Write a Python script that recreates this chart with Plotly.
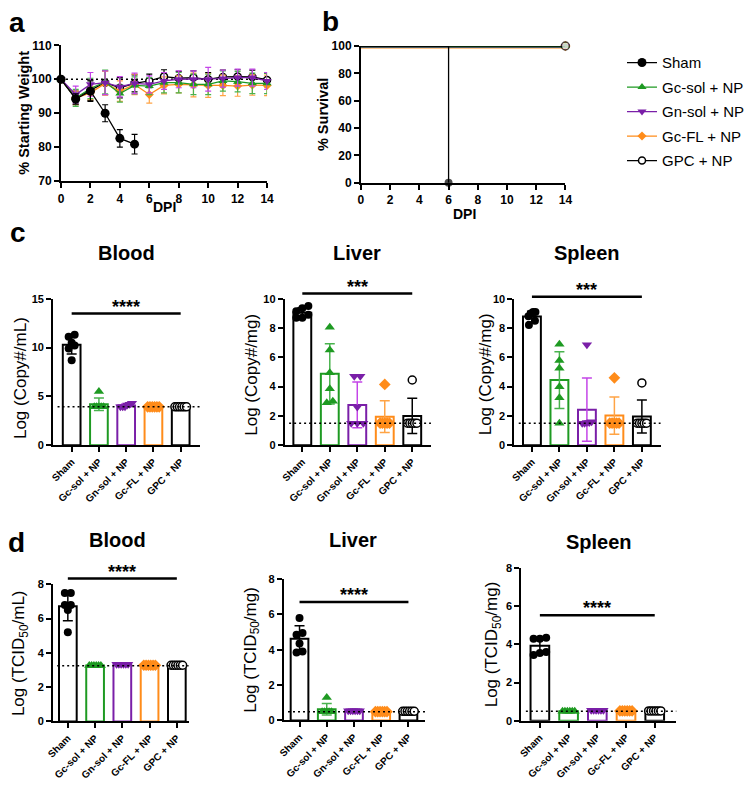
import numpy as np
import plotly.graph_objects as go

W, H = 750, 793
FONT = "Liberation Sans, Arial, Helvetica, sans-serif"

# ---------------- data ----------------
groups = ["Sham", "Gc-sol + NP", "Gn-sol + NP", "Gc-FL + NP", "GPC + NP"]
group_colors = ["#000000", "#1e9a22", "#7a1fa8", "#ff8c1a", "#000000"]
err_colors = ["#000000", "#49b34e", "#c445e8", "#ffa445", "#000000"]
symbols = ["circle", "triangle-up", "triangle-down", "diamond", "circle"]
hollow = [False, False, False, False, True]

# panel a: % starting weight
dpi = [0, 1, 2, 3, 4, 5, 6, 7, 8, 9, 10, 11, 12, 13, 14]
dpi_sham = [0, 1, 2, 3, 4, 5]
w_sham = [100, 94.2, 96.5, 90.0, 82.6, 80.9]
w_sham_sd = [0, 1.5, 3.0, 2.5, 2.6, 2.9]
w_gcsol = [100, 94.5, 97.3, 99.2, 95.8, 98.2, 98.0, 99.0, 99.0, 98.5, 98.5, 99.5, 99.3, 98.8, 98.8]
w_gcsol_sd = [0, 2.5, 3.0, 3.5, 2.5, 2.5, 2.5, 3.0, 3.0, 3.0, 3.0, 3.0, 3.0, 3.0, 3.0]
w_gnsol = [100, 95.5, 98.5, 99.0, 97.8, 98.8, 98.5, 99.5, 100.0, 100.0, 100.0, 100.2, 100.5, 100.5, 99.5]
w_gnsol_sd = [0, 2.5, 3.5, 3.5, 3.0, 3.0, 2.5, 2.5, 2.5, 2.5, 3.5, 2.5, 2.5, 2.5, 2.5]
w_gcfl = [100, 94.5, 96.0, 98.8, 96.5, 98.5, 95.5, 98.2, 98.5, 98.3, 98.2, 98.2, 98.0, 98.3, 98.2]
w_gcfl_sd = [0, 2.0, 2.0, 3.5, 3.0, 3.0, 2.5, 2.5, 2.5, 3.5, 3.5, 3.0, 3.0, 3.0, 3.0]
w_gpc = [100, 94.5, 96.8, 99.0, 97.5, 98.8, 99.5, 100.8, 100.3, 100.5, 100.0, 100.7, 100.8, 100.7, 99.8]
w_gpc_sd = [0, 2.0, 3.0, 3.5, 3.0, 2.5, 2.0, 2.0, 2.0, 2.0, 2.0, 2.0, 2.0, 2.0, 2.0]

# panel b: survival
surv_days_sham = [0, 6, 6]
surv_sham = [100, 100, 0]
surv_days_other = [0, 14]
surv_other = [100, 100]

# panel c: viral RNA (log copies)
c_blood = [
    [11.3, 11.1, 10.5, 10.2, 9.9, 8.7],
    [5.5, 3.93, 3.93, 3.93, 3.93, 3.93],
    [4.3, 4.2, 4.1, 3.93, 3.93, 3.93],
    [3.93, 3.93, 3.93, 3.93, 3.93, 3.93],
    [3.93, 3.93, 3.93, 3.93, 3.93, 3.93],
]
c_liver = [
    [9.5, 9.35, 9.15, 8.9, 8.7, 8.7],
    [8.05, 6.5, 4.95, 3.85, 3.0, 2.9],
    [4.7, 4.7, 2.6, 1.5, 1.5, 1.5],
    [4.15, 1.5, 1.5, 1.5, 1.5, 1.5],
    [4.45, 1.5, 1.5, 1.5, 1.5, 1.5],
]
c_spleen = [
    [9.1, 9.1, 9.0, 8.8, 8.5, 8.2],
    [6.9, 5.78, 5.26, 3.98, 3.24, 1.5],
    [6.85, 1.6, 1.55, 1.55, 1.5, 1.5],
    [4.6, 1.5, 1.5, 1.5, 1.5, 1.5],
    [4.25, 1.5, 1.5, 1.5, 1.5, 1.5],
]
# panel d: infectious titer (log TCID50)
d_blood = [
    [7.5, 7.5, 6.8, 6.8, 6.5, 5.2],
    [3.26, 3.26, 3.26, 3.26, 3.26, 3.26],
    [3.34, 3.34, 3.34, 3.34, 3.34, 3.34],
    [3.28, 3.28, 3.28, 3.28, 3.28, 3.28],
    [3.28, 3.28, 3.28, 3.28, 3.28, 3.28],
]
d_liver = [
    [5.8, 4.95, 4.85, 4.35, 3.85, 3.9],
    [1.3, 0.5, 0.5, 0.5, 0.5, 0.5],
    [0.55, 0.55, 0.55, 0.55, 0.55, 0.55],
    [0.5, 0.5, 0.5, 0.5, 0.5, 0.5],
    [0.52, 0.52, 0.52, 0.52, 0.52, 0.52],
]
d_spleen = [
    [4.35, 4.3, 4.3, 3.6, 3.55, 3.45],
    [0.5, 0.5, 0.5, 0.5, 0.5, 0.5],
    [0.55, 0.55, 0.55, 0.55, 0.55, 0.55],
    [0.52, 0.52, 0.52, 0.52, 0.52, 0.52],
    [0.52, 0.52, 0.52, 0.52, 0.52, 0.52],
]
lod = {"cb": 3.93, "cl": 1.5, "cs": 1.5, "db": 3.25, "dl": 0.5, "ds": 0.5}
sig_level = {"cb": 13.5, "cl": 10.36, "cs": 10.13, "db": 8.34, "dl": 6.7, "ds": 5.52}
sig_text = {"cb": "****", "cl": "***", "cs": "***", "db": "****", "dl": "****", "ds": "****"}

# ---------------- layout geometry (pixels) ----------------
def dx(a, b):
    return [a / W, b / W]

def dy(top, bot):
    return [1 - bot / H, 1 - top / H]

bar_panels = {
    "cb": dict(i=3, xp=(47, 197), yp=(297, 446), xr=[-0.68, 4.72], yr=[0, 15], tv=[0, 5, 10, 15], data=c_blood),
    "cl": dict(i=4, xp=(283, 432), yp=(297, 446), xr=[-0.64, 4.68], yr=[0, 10], tv=[0, 2, 4, 6, 8, 10], data=c_liver),
    "cs": dict(i=5, xp=(517, 666), yp=(297, 446), xr=[-0.64, 4.68], yr=[0, 10], tv=[0, 2, 4, 6, 8, 10], data=c_spleen),
    "db": dict(i=6, xp=(47, 185), yp=(587.7, 727.3), xr=[-0.54, 4.43], yr=[0, 8], tv=[0, 2, 4, 6, 8], data=d_blood),
    "dl": dict(i=7, xp=(282, 426), yp=(582.3, 726.3), xr=[-0.58, 4.61], yr=[0, 8], tv=[0, 2, 4, 6, 8], data=d_liver),
    "ds": dict(i=8, xp=(524, 682), yp=(571, 726.7), xr=[-0.65, 4.75], yr=[0, 8], tv=[0, 2, 4, 6, 8], data=d_spleen),
}

def axis_style(size=12):
    return dict(showline=True, linewidth=2, linecolor="black", ticks="outside", ticklen=5,
                tickwidth=2, tickcolor="black", showgrid=False, zeroline=False,
                tickfont=dict(family=FONT, size=size, color="black", weight="bold"))

def marker_for(g, size):
    if hollow[g]:
        return dict(symbol=symbols[g], size=size, color="white",
                    line=dict(color=group_colors[g], width=1.5))
    return dict(symbol=symbols[g], size=size, color=group_colors[g], line=dict(width=0))

fig = go.Figure()
layout = dict(width=W, height=H, autosize=False, margin=dict(l=0, r=0, t=0, b=0),
              paper_bgcolor="white", plot_bgcolor="white",
              font=dict(family=FONT, color="black"), showlegend=True)

layout["xaxis"] = dict(axis_style(12), domain=dx(55, 265), range=[0, 14], tickvals=[0, 2, 4, 6, 8, 10, 12, 14], anchor="y")
layout["yaxis"] = dict(axis_style(12), domain=dy(39, 177.3), range=[70, 110], tickvals=[70, 80, 90, 100, 110], anchor="x")
layout["xaxis2"] = dict(axis_style(12), domain=dx(360.7, 569), range=[0, 14], tickvals=[0, 2, 4, 6, 8, 10, 12, 14], anchor="y2")
layout["yaxis2"] = dict(axis_style(12), domain=dy(39.7, 179), range=[0, 100], tickvals=[0, 20, 40, 60, 80, 100], anchor="x2")

for key, p in bar_panels.items():
    i = p["i"]
    layout[f"xaxis{i}"] = dict(axis_style(10), domain=dx(*p["xp"]), range=p["xr"],
                               tickvals=[0, 1, 2, 3, 4], ticktext=groups, tickangle=-45, anchor=f"y{i}")
    layout[f"yaxis{i}"] = dict(axis_style(11), domain=dy(*p["yp"]), range=p["yr"],
                               tickvals=p["tv"], anchor=f"x{i}")

# ---------------- panel a traces ----------------
weights = [(dpi_sham, w_sham, w_sham_sd), (dpi, w_gcsol, w_gcsol_sd), (dpi, w_gnsol, w_gnsol_sd),
           (dpi, w_gcfl, w_gcfl_sd), (dpi, w_gpc, w_gpc_sd)]
for g in [4, 3, 1, 2, 0]:
    xs, ys, sd = weights[g]
    fig.add_trace(go.Scatter(
        x=xs, y=ys, mode="lines+markers", name=groups[g], legendrank=g + 1,
        legendgroup=groups[g], xaxis="x", yaxis="y", cliponaxis=False,
        line=dict(color=group_colors[g], width=1.3),
        marker=marker_for(g, {0: 9, 1: 8, 2: 8, 3: 7, 4: 7}[g]),
        error_y=dict(type="data", array=sd, color=err_colors[g], thickness=1.2, width=3)))

# ---------------- panel b traces ----------------
for g in [3, 2, 1, 4, 0]:
    if g == 0:
        xs, ys = surv_days_sham, surv_sham
    else:
        xs, ys = surv_days_other, surv_other
    sizes = [0] * (len(xs) - 1) + [8]
    lw = {3: 5, 2: 4, 1: 3, 4: 1.3, 0: 1.3}[g]
    mk = marker_for(g, 8)
    mk["size"] = sizes
    fig.add_trace(go.Scatter(
        x=xs, y=ys, mode="lines+markers", showlegend=False, xaxis="x2", yaxis="y2", cliponaxis=False,
        line=dict(color=group_colors[g], width=lw), marker=mk))

# ---------------- bar panels ----------------
def swarm(vals, span, tol=0.035):
    vals = np.asarray(vals, dtype=float)
    order = np.argsort(vals)
    offs = np.zeros(len(vals))
    clusters, cur = [], [order[0]]
    for k in order[1:]:
        if vals[k] - vals[cur[0]] <= tol * span:
            cur.append(k)
        else:
            clusters.append(cur)
            cur = [k]
    clusters.append(cur)
    for c in clusters:
        n = len(c)
        step = 0.085 if n >= 4 else 0.22
        for j, k in enumerate(c):
            offs[k] = (j - (n - 1) / 2) * step
    return offs

shapes = []
annotations = []

def ypaper(p, v):
    top, bot = p["yp"]
    r0, r1 = p["yr"]
    pix = bot - (v - r0) / (r1 - r0) * (bot - top)
    return 1 - pix / H

for key, p in bar_panels.items():
    i = p["i"]
    span = p["yr"][1] - p["yr"][0]
    for g, vals in enumerate(p["data"]):
        m = float(np.mean(vals))
        s = float(np.std(vals, ddof=1))
        fig.add_trace(go.Bar(
            x=[g], y=[m], width=0.65, xaxis=f"x{i}", yaxis=f"y{i}", showlegend=False,
            marker=dict(color="white", line=dict(color=group_colors[g], width=2)),
            error_y=dict(type="data", array=[s], color=err_colors[g], thickness=1.5, width=5)))
        offs = swarm(vals, span)
        fig.add_trace(go.Scatter(
            x=list(g + offs), y=vals, mode="markers", xaxis=f"x{i}", yaxis=f"y{i}",
            showlegend=False, cliponaxis=False,
            marker=marker_for(g, 8 if symbols[g] == "circle" else 9)))
    shapes.append(dict(type="line", xref=f"x{i} domain", yref=f"y{i}", x0=0.03, x1=1,
                       y0=lod[key], y1=lod[key], line=dict(color="black", width=1.5, dash="2px,3px"), layer="above"))
    yv = ypaper(p, sig_level[key])
    shapes.append(dict(type="line", xref=f"x{i}", yref="paper", x0=0, x1=4, y0=yv, y1=yv,
                       line=dict(color="black", width=2.5)))
    annotations.append(dict(x=2, xref=f"x{i}", y=yv + 7 / H, yref="paper", text=sig_text[key],
                            showarrow=False, xanchor="center", yanchor="middle",
                            font=dict(family=FONT, size=18, color="black", weight="bold")))

shapes.append(dict(type="line", xref="x", yref="y", x0=0, x1=14, y0=100, y1=100,
                   line=dict(color="black", width=1.5, dash="2px,3px"), layer="below"))

def ann(xp, yp, text, size, bold=True, angle=0, xanchor="center"):
    return dict(x=xp / W, y=1 - yp / H, xref="paper", yref="paper", text=text, showarrow=False,
                textangle=angle, xanchor=xanchor, yanchor="middle",
                font=dict(family=FONT, size=size, color="black", weight="bold" if bold else "normal"))

annotations += [ann(10, 16, "a", 28), ann(330, 15, "b", 28), ann(11, 230, "c", 28), ann(10, 545, "d", 28)]
annotations += [ann(17, 108, "% Starting Weight", 14.5, angle=-90), ann(160, 204, "DPI", 14),
                ann(322, 109, "% Survival", 14.5, angle=-90), ann(466, 211, "DPI", 14)]
annotations += [ann(122, 250, "Blood", 20), ann(357, 250, "Liver", 20), ann(591, 250, "Spleen", 20),
                ann(113, 543, "Blood", 20), ann(353, 543, "Liver", 20), ann(603, 545, "Spleen", 20)]
annotations += [ann(14, 378, "Log (Copy#/mL)", 17, bold=False, angle=-90),
                ann(249, 374, "Log (Copy#/mg)", 17, bold=False, angle=-90),
                ann(487, 374, "Log (Copy#/mg)", 17, bold=False, angle=-90),
                ann(14, 658, "Log (TCID<sub>50</sub>/mL)", 17, bold=False, angle=-90),
                ann(250, 654, "Log (TCID<sub>50</sub>/mg)", 17, bold=False, angle=-90),
                ann(495, 649, "Log (TCID<sub>50</sub>/mg)", 17, bold=False, angle=-90)]

layout["shapes"] = shapes
layout["annotations"] = annotations
layout["legend"] = dict(x=0.836, xanchor="left", y=1 - 40 / H, yanchor="top",
                        font=dict(family=FONT, size=15, color="black"), tracegroupgap=2,
                        bgcolor="rgba(0,0,0,0)", itemwidth=30)
fig.update_layout(layout)
fig.write_html("out.html", config={"displayModeBar": False},
               post_script="document.body.style.margin='0';document.body.style.overflow='hidden';")
